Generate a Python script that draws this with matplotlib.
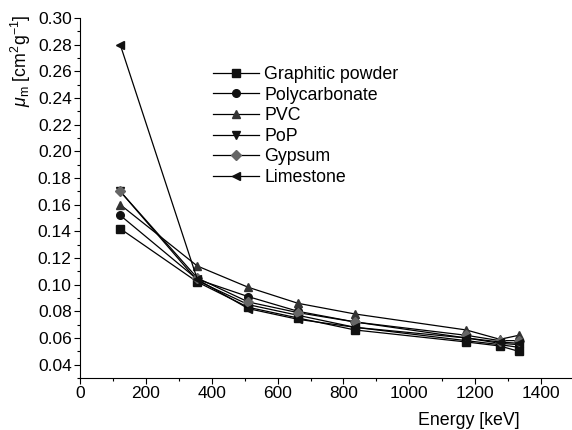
import matplotlib.pyplot as plt
from matplotlib.ticker import MultipleLocator

plt.rcParams['font.family'] = ['Liberation Sans', 'DejaVu Sans']
plt.rcParams['mathtext.fontset'] = 'custom'
plt.rcParams['mathtext.rm'] = 'Liberation Sans'
plt.rcParams['mathtext.it'] = 'Liberation Sans:italic'

# gamma energies [keV]
energy = [122, 356, 511, 662, 835, 1173, 1275, 1332]

# mass attenuation coefficients [cm2/g]
graphitic = [0.142, 0.102, 0.083, 0.075, 0.066, 0.057, 0.054, 0.050]
polycarbonate = [0.152, 0.104, 0.091, 0.080, 0.072, 0.060, 0.056, 0.055]
pvc = [0.160, 0.114, 0.098, 0.086, 0.078, 0.066, 0.059, 0.062]
pop = [0.170, 0.103, 0.085, 0.077, 0.068, 0.058, 0.055, 0.053]
gypsum = [0.170, 0.105, 0.087, 0.079, 0.072, 0.062, 0.058, 0.058]
limestone = [0.280, 0.104, 0.082, 0.074, 0.068, 0.060, 0.057, 0.056]

names = ['Graphitic powder', 'Polycarbonate', 'PVC', 'PoP', 'Gypsum', 'Limestone']
series = [graphitic, polycarbonate, pvc, pop, gypsum, limestone]
markers = ['s', 'o', '^', 'v', 'D', '<']
colors = ['#111111', '#111111', '#333333', '#111111', '#666666', '#111111']
msizes = [5.5, 5.5, 6, 6, 5, 6]

fig = plt.figure(figsize=(5.72, 4.30), dpi=100)
ax = fig.add_axes([0.14, 0.121, 0.86, 0.837])

for vals, name, m, c, ms in zip(series, names, markers, colors, msizes):
    ax.plot(energy, vals, marker=m, color='black', mfc=c, mec=c,
            ms=ms, lw=0.9, label=name)

ax.set_xlim(0, 1494)
ax.set_ylim(0.03, 0.30)
ax.xaxis.set_major_locator(MultipleLocator(200))
ax.xaxis.set_minor_locator(MultipleLocator(100))
ax.yaxis.set_major_locator(MultipleLocator(0.02))
ax.yaxis.set_minor_locator(MultipleLocator(0.01))
ax.yaxis.set_major_formatter(plt.FormatStrFormatter('%.2f'))

for s in ['top', 'right']:
    ax.spines[s].set_visible(False)
ax.tick_params(which='major', direction='out', length=4, labelsize=12.5, width=0.8, pad=2)
ax.tick_params(which='minor', direction='out', length=2.5, width=0.8)

ax.set_xlabel('Energy [keV]', fontsize=12.8)
ax.xaxis.set_label_coords(0.79, -0.095)
ax.set_ylabel(r'$\mathit{\mu}_\mathrm{m}$ [cm$^2$g$^{-1}$]', fontsize=12.8)
ax.yaxis.set_label_coords(-0.095, 0.88)

ax.legend(loc='upper left', bbox_to_anchor=(0.356, 0.867), bbox_transform=fig.transFigure,
          frameon=False, fontsize=12.8, handlelength=2.6, labelspacing=0.2,
          handletextpad=0.3, borderpad=0)

fig.savefig('out.png', dpi=100)
